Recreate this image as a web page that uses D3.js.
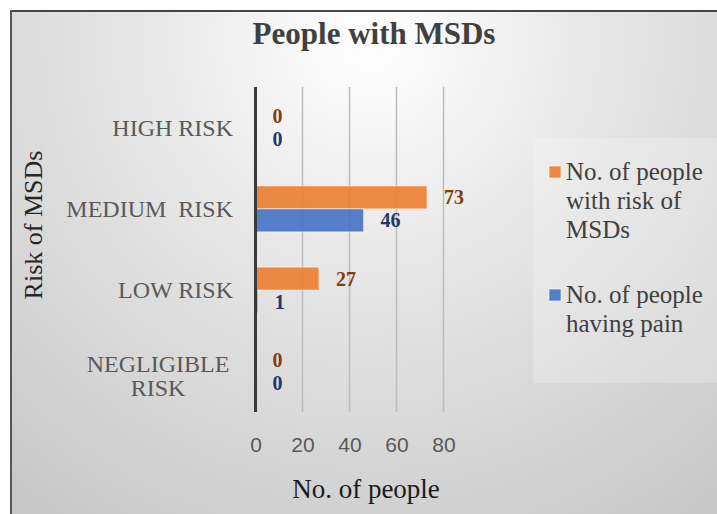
<!DOCTYPE html>
<html>
<head>
<meta charset="utf-8">
<script src="https://cdn.jsdelivr.net/npm/d3@7"></script>
<style>
  html, body { margin: 0; padding: 0; background: #ffffff; }
  svg { display: block; }
</style>
</head>
<body>
<svg id="chart" width="717" height="514"></svg>
<script>
// ---- data ----
const categories = ["HIGH RISK", "MEDIUM  RISK", "LOW RISK", "NEGLIGIBLE\nRISK"];
const seriesNames = ["No. of people with risk of MSDs", "No. of people having pain"];
const riskValues = [0, 73, 27, 0];
const painValues = [0, 46, 1, 0];
const xTicks = [0, 20, 40, 60, 80];
const legendLines = [["No. of people", "with risk of", "MSDs"], ["No. of people", "having pain"]];
const seriesColors = ["#ED7D31", "#4472C4"];
const labelColors = ["#843C0C", "#1F3864"];

const SERIF = "'Liberation Serif', 'Times New Roman', serif";
const SANS = "'Liberation Sans', Arial, sans-serif";

const svg = d3.select("#chart");
const W = 717, H = 514;

// background gradient
const defs = svg.append("defs");
const grad = defs.append("radialGradient")
  .attr("id", "bg").attr("gradientUnits", "userSpaceOnUse")
  .attr("cx", 370).attr("cy", 40).attr("r", 640);
[[0, "#ffffff"], [0.12, "#f7f7f7"], [0.4, "#e4e4e4"], [0.65, "#d6d6d6"], [1, "#c2c2c2"]]
  .forEach(([o, c]) => grad.append("stop").attr("offset", o).attr("stop-color", c));

svg.append("rect").attr("x", 11).attr("y", 11).attr("width", W).attr("height", H)
  .attr("fill", "url(#bg)");
// border (top & left visible)
svg.append("line").attr("x1", 10).attr("x2", W).attr("y1", 11).attr("y2", 11)
  .attr("stroke", "#444").attr("stroke-width", 2);
svg.append("line").attr("x1", 11).attr("x2", 11).attr("y1", 10).attr("y2", H)
  .attr("stroke", "#555").attr("stroke-width", 2);

// title
svg.append("text").attr("x", 374).attr("y", 44).attr("text-anchor", "middle")
  .attr("font-family", SERIF).attr("font-weight", "bold")
  .attr("font-size", 31).attr("fill", "#404040").text("People with MSDs");

// scales
const plotTop = 87, plotBottom = 412;
const x = d3.scaleLinear().domain([0, 80]).range([255.5, 443.5]);
const y = d3.scaleBand().domain(categories).range([plotTop, plotBottom])
  .paddingInner(0.434).paddingOuter(0.217);
const ySub = d3.scaleBand().domain([0, 1]).range([0, y.bandwidth()]);

// gridlines
svg.append("g").selectAll("line").data(xTicks.filter(t => t > 0)).join("line")
  .attr("x1", d => x(d)).attr("x2", d => x(d))
  .attr("y1", plotTop).attr("y2", plotBottom)
  .attr("stroke", "#bdbdbd").attr("stroke-width", 1.5);

// x axis tick labels
const xAxis = svg.append("g").attr("transform", `translate(0,${plotBottom})`)
  .call(d3.axisBottom(x).tickValues(xTicks).tickSize(0).tickPadding(0));
xAxis.select(".domain").remove();
xAxis.selectAll("text").attr("dy", null).attr("y", 40)
  .attr("font-family", SANS).attr("font-size", 21).attr("fill", "#595959");

// bars
const rows = categories.map((c, i) => ({ c, vals: [riskValues[i], painValues[i]] }));
const g = svg.append("g");
rows.forEach(r => {
  r.vals.forEach((v, s) => {
    const yy = y(r.c) + ySub(s);
    g.append("rect").attr("x", x(0)).attr("y", yy)
      .attr("width", x(v) - x(0)).attr("height", ySub.bandwidth())
      .attr("fill", seriesColors[s]).attr("fill-opacity", 0.9)
      .attr("stroke", "rgba(255,255,255,0.55)").attr("stroke-width", 1);
    g.append("text").attr("x", x(v) + 17).attr("y", yy + ySub.bandwidth() / 2 + 7)
      .attr("font-family", SERIF).attr("font-weight", "bold")
      .attr("font-size", 20).attr("fill", labelColors[s]).text(v);
  });
});

// y axis line
svg.append("line").attr("x1", x(0)).attr("x2", x(0)).attr("y1", plotTop).attr("y2", plotBottom)
  .attr("stroke", "#3a3a3a").attr("stroke-width", 3);

// category labels
categories.forEach(c => {
  const lines = c.split("\n");
  const cy = y(c) + y.bandwidth() / 2;
  const t = svg.append("text").attr("font-family", SERIF)
    .attr("font-size", 24).attr("fill", "#595959").style("white-space", "pre");
  if (lines.length === 1) {
    t.attr("x", 233).attr("y", cy + 8).attr("text-anchor", "end").text(lines[0]);
  } else {
    t.attr("text-anchor", "middle");
    lines.forEach((l, i) => t.append("tspan").attr("x", 158).attr("y", cy + 1 + i * 24).text(l));
  }
});

// axis titles
svg.append("text").attr("transform", "translate(42,225) rotate(-90)")
  .attr("text-anchor", "middle").attr("font-family", SERIF)
  .attr("font-size", 26).attr("fill", "#262626").text("Risk of MSDs");
svg.append("text").attr("x", 366).attr("y", 498).attr("text-anchor", "middle")
  .attr("font-family", SERIF).attr("font-size", 27)
  .attr("fill", "#1a1a1a").text("No. of people");

// legend
svg.append("rect").attr("x", 533).attr("y", 138).attr("width", 200).attr("height", 245)
  .attr("fill", "#ffffff").attr("fill-opacity", 0.22);
const legendY = [180, 303];
seriesNames.forEach((n, s) => {
  svg.append("rect").attr("x", 549).attr("y", legendY[s] - 14).attr("width", 12).attr("height", 12)
    .attr("fill", seriesColors[s]).attr("fill-opacity", 0.9)
    .attr("stroke", "rgba(255,255,255,0.6)").attr("stroke-width", 1);
  const t = svg.append("text").attr("font-family", SERIF)
    .attr("font-size", 25).attr("fill", "#404040");
  legendLines[s].forEach((l, i) => t.append("tspan").attr("x", 566).attr("y", legendY[s] + i * 29).text(l));
});
</script>
</body>
</html>
